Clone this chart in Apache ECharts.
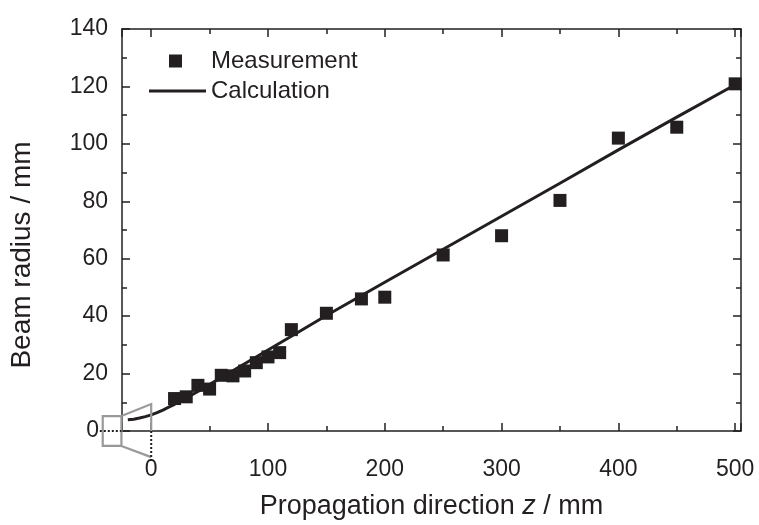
<!DOCTYPE html>
<html><head><meta charset="utf-8">
<script src="https://cdn.jsdelivr.net/npm/echarts@6/dist/echarts.min.js"></script>
<style>html,body{margin:0;padding:0;background:#fff}#c{width:759px;height:525px}</style>
</head><body><div id="c"></div>
<script>
// Measured beam radius
const measZ = [20, 30, 40, 50, 60, 70, 80, 90, 100, 110, 120, 150, 180, 200, 250, 300, 350, 400, 450, 500];
const measR = [11.3, 11.9, 15.9, 14.6, 19.4, 19.2, 20.9, 23.8, 25.8, 27.3, 35.3, 41.0, 46.0, 46.6, 61.3, 68.0, 80.3, 102.0, 105.8, 120.9];
// Calculated beam radius
const calcZ = [-20, -15, -10, -5, 0, 5, 10, 15, 20, 30, 40, 60, 80, 100, 120, 150, 200, 250, 300, 350, 400, 450, 500];
const calcR = [3.9, 4.1, 4.5, 5.0, 5.6, 6.4, 7.3, 8.3, 9.3, 11.5, 13.8, 18.6, 23.4, 28.2, 33.0, 40.2, 51.8, 63.3, 74.8, 86.3, 97.9, 109.3, 120.6];
const seriesNames = ['Measurement', 'Calculation'];
const xTitle = 'Propagation direction {i|z} / mm';
const yTitle = 'Beam radius / mm';

const ink = '#231f20';
const gray = '#999999';
const FONT = 'Liberation Sans, Arial, Helvetica, sans-serif';

const chart = echarts.init(document.getElementById('c'), null, {renderer: 'canvas'});

function axisBase(pos) {
  return {
    type: 'value', position: pos,
    axisLine: {show: true, onZero: false, lineStyle: {color: ink, width: 1.5}},
    axisTick: {show: true, inside: true, length: 8, lineStyle: {color: ink, width: 1.5}},
    minorTick: {show: true, splitNumber: 2, length: 5, lineStyle: {color: ink, width: 1.5}},
    splitLine: {show: false}, minorSplitLine: {show: false}
  };
}

const xb = axisBase('bottom');
Object.assign(xb, {
  min: -25, max: 505, splitNumber: 5,
  axisLabel: {show: true, fontSize: 23, fontFamily: FONT, color: ink, margin: 27,
    showMinLabel: false, showMaxLabel: false,
    formatter: v => (v % 100 === 0 ? String(v) : '')},
  name: xTitle, nameLocation: 'middle', nameGap: 62,
  nameTextStyle: {fontSize: 27, fontFamily: FONT, color: ink,
    rich: {i: {fontSize: 27, fontFamily: FONT, fontStyle: 'italic', color: ink}}}
});
const xt = axisBase('top');
Object.assign(xt, {min: -25, max: 505, splitNumber: 5, axisLabel: {show: false}});

const yl = axisBase('left');
Object.assign(yl, {
  min: 0, max: 140, interval: 20,
  axisLabel: {show: true, fontSize: 23, fontFamily: FONT, color: ink, margin: 14,
    formatter: v => (v === 0 ? '{z|0}' : String(v)),
    rich: {z: {fontSize: 23, fontFamily: FONT, color: ink, padding: [0, 9, 0, 0]}}}
});
const yr = axisBase('right');
Object.assign(yr, {min: 0, max: 140, interval: 20, axisLabel: {show: false}});

const legendText = {fontSize: 24, fontFamily: FONT, color: ink};

chart.setOption({
  animation: false,
  backgroundColor: '#fff',
  grid: {left: 122, right: 18, top: 29, bottom: 92, containLabel: false},
  xAxis: [xb, xt],
  yAxis: [yl, yr],
  legend: [
    {data: [{name: seriesNames[0], icon: 'rect'}], left: 169, top: 49, padding: 0,
     itemWidth: 13, itemHeight: 13, selectedMode: false,
     textStyle: Object.assign({padding: [0, 0, 0, 24]}, legendText)},
    {data: [{name: seriesNames[1], icon: 'path://M0 0H57V3H0Z'}], left: 149, top: 79, padding: 0,
     itemWidth: 57, itemHeight: 13, textStyle: legendText, selectedMode: false}
  ],
  series: [
    {name: seriesNames[1], type: 'line', xAxisIndex: 0, yAxisIndex: 0,
     data: calcZ.map((z, i) => [z, calcR[i]]), symbol: 'none', smooth: false,
     lineStyle: {color: ink, width: 3}, itemStyle: {color: ink}, z: 2},
    {name: seriesNames[0], type: 'scatter', xAxisIndex: 0, yAxisIndex: 0,
     data: measZ.map((z, i) => [z, measR[i]]), symbol: 'rect', symbolSize: 13,
     itemStyle: {color: ink, opacity: 1}, z: 3}
  ]
});

// Beam-waist schematic near the origin (in data units)
const P = (x, y) => chart.convertToPixel({xAxisIndex: 0, yAxisIndex: 0}, [x, y]);
const a = P(-41.5, 5.2), b = P(-25.5, -5.2);
const t0 = P(-25.5, 5.2), t1 = P(0, 9.4);
const b0 = P(-25.5, -5.2), b1 = P(0, -9.1);
const o = P(0, 0), d = P(0, -10.5);
const h0 = P(-44, 0), h1 = P(-25.5, 0);

chart.setOption({
  graphic: [
    {type: 'rect', shape: {x: a[0], y: a[1], width: b[0] - a[0], height: b[1] - a[1]},
     style: {fill: 'none', stroke: gray, lineWidth: 2.2}, z: 10},
    {type: 'polyline', shape: {points: [t0, t1, o]}, style: {fill: 'none', stroke: gray, lineWidth: 2.2}, z: 10},
    {type: 'polyline', shape: {points: [b0, b1]}, style: {fill: 'none', stroke: gray, lineWidth: 2.2}, z: 10},
    {type: 'line', shape: {x1: o[0], y1: o[1], x2: d[0], y2: d[1]},
     style: {stroke: ink, lineWidth: 2, lineDash: [2, 2]}, z: 11},
    {type: 'line', shape: {x1: h0[0], y1: h0[1], x2: h1[0], y2: h1[1]},
     style: {stroke: ink, lineWidth: 2, lineDash: [2, 2]}, z: 11},
    {type: 'text', x: 22, y: 255, rotation: Math.PI / 2,
     style: {text: yTitle, fontSize: 28, fontFamily: FONT, fill: ink, align: 'center', verticalAlign: 'middle'}, z: 10}
  ]
});
</script>
</body></html>
